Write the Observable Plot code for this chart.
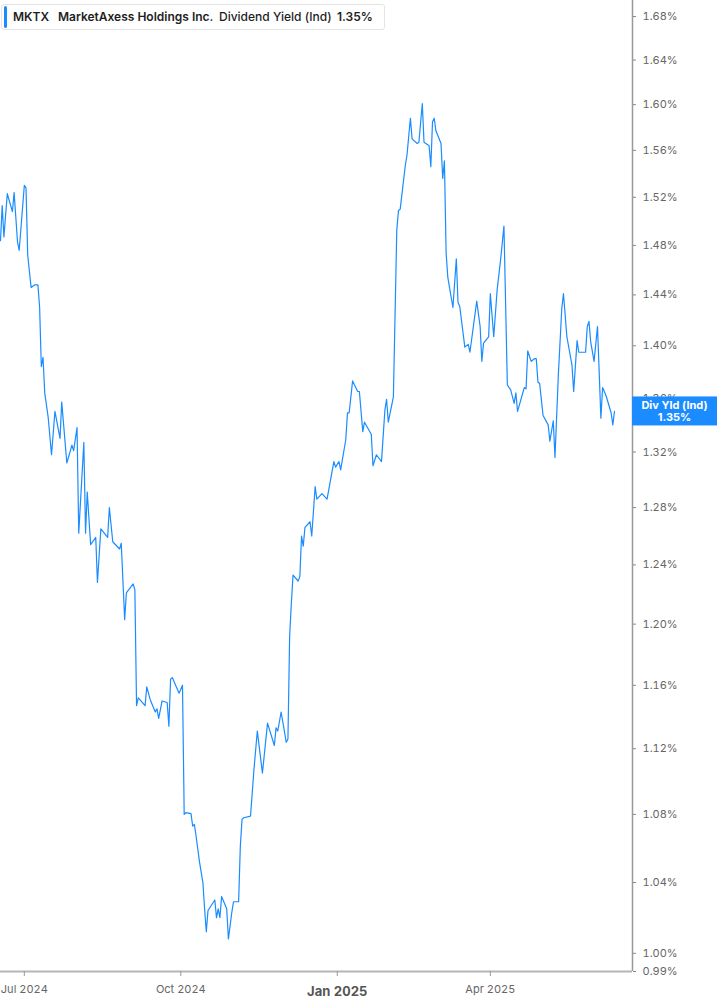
<!DOCTYPE html>
<html><head><meta charset="utf-8">
<script src="https://cdn.jsdelivr.net/npm/d3@7"></script>
<script src="https://cdn.jsdelivr.net/npm/@observablehq/plot@0.6"></script>
<style>
body{margin:0;background:#fff;font-family:Inter,"Noto Sans",sans-serif;}
#wrap{position:relative;width:717px;height:1005px;overflow:hidden}
#hdr{position:absolute;left:1px;top:4px;width:384px;height:26px;box-sizing:border-box;border:1px solid #e4e4e4;border-radius:3px;background:#fff;font-size:12px;font-weight:600;color:#1e1e1e}
#hdr .bar{position:absolute;left:2px;top:1px;width:3px;height:22px;background:#1a8cff;border-radius:2px}
#hdr span{position:absolute;top:4px;line-height:16px;white-space:nowrap}
</style></head>
<body><div id="wrap"><div id="chart"></div>
<div id="hdr"><div class="bar"></div><span style="left:11px">MKTX</span><span style="left:56px">MarketAxess Holdings Inc.</span><span style="left:217px;font-weight:500">Dividend Yield (Ind)</span><span style="left:335px">1.35%</span></div>
</div>
<script>
const dates = [
"2024-06-17","2024-06-18","2024-06-19","2024-06-21","2024-06-24","2024-06-25","2024-06-27","2024-06-28",
"2024-07-01","2024-07-02","2024-07-03","2024-07-05","2024-07-07","2024-07-09","2024-07-10","2024-07-11","2024-07-12","2024-07-13","2024-07-15","2024-07-17","2024-07-19","2024-07-22","2024-07-23","2024-07-26","2024-07-29","2024-07-30",
"2024-08-01","2024-08-02","2024-08-05","2024-08-06","2024-08-07","2024-08-09","2024-08-12","2024-08-13","2024-08-15","2024-08-19","2024-08-20","2024-08-22","2024-08-26","2024-08-27","2024-08-29","2024-08-30",
"2024-09-03","2024-09-04","2024-09-05","2024-09-06","2024-09-10","2024-09-11","2024-09-13","2024-09-16","2024-09-17","2024-09-18","2024-09-20","2024-09-23","2024-09-24","2024-09-25","2024-09-26","2024-09-30",
"2024-10-02","2024-10-03","2024-10-04","2024-10-07","2024-10-08","2024-10-09","2024-10-10","2024-10-12","2024-10-14","2024-10-15","2024-10-16","2024-10-17","2024-10-21","2024-10-22","2024-10-23","2024-10-24","2024-10-25","2024-10-28","2024-10-29","2024-10-31",
"2024-11-01","2024-11-04","2024-11-05","2024-11-06","2024-11-07","2024-11-11","2024-11-13","2024-11-15","2024-11-18","2024-11-21","2024-11-25","2024-11-26","2024-11-27","2024-11-29",
"2024-12-02","2024-12-03","2024-12-04","2024-12-05","2024-12-06","2024-12-09","2024-12-10","2024-12-11","2024-12-12","2024-12-13","2024-12-16","2024-12-17","2024-12-19","2024-12-20","2024-12-23","2024-12-26","2024-12-30","2024-12-31",
"2025-01-02","2025-01-03","2025-01-06","2025-01-07","2025-01-08","2025-01-10","2025-01-13","2025-01-14","2025-01-16","2025-01-17","2025-01-21","2025-01-22","2025-01-24","2025-01-27","2025-01-29","2025-01-30","2025-01-31",
"2025-02-03","2025-02-05","2025-02-06","2025-02-07","2025-02-10","2025-02-11","2025-02-13","2025-02-14","2025-02-17","2025-02-18","2025-02-20","2025-02-21","2025-02-24","2025-02-25","2025-02-26","2025-02-27","2025-02-28",
"2025-03-03","2025-03-04","2025-03-05","2025-03-06","2025-03-07","2025-03-10","2025-03-12","2025-03-13","2025-03-14","2025-03-17","2025-03-19","2025-03-20","2025-03-24","2025-03-26","2025-03-27","2025-03-28","2025-03-31",
"2025-04-01","2025-04-03","2025-04-05","2025-04-07","2025-04-09","2025-04-11","2025-04-13","2025-04-15","2025-04-16","2025-04-17","2025-04-21","2025-04-22","2025-04-23","2025-04-25","2025-04-27","2025-04-28","2025-04-29","2025-04-30",
"2025-05-02","2025-05-05","2025-05-06","2025-05-08","2025-05-09","2025-05-11","2025-05-13","2025-05-14","2025-05-16","2025-05-19","2025-05-20","2025-05-22","2025-05-23","2025-05-27","2025-05-28","2025-05-29","2025-05-30",
"2025-06-01","2025-06-03","2025-06-05","2025-06-06","2025-06-08","2025-06-11","2025-06-12","2025-06-13"
];
const yields = [
1.484,1.513,1.487,1.523,1.508,1.524,1.483,1.476,
1.530,1.528,1.472,1.446,1.448,1.448,1.430,1.384,1.391,1.364,1.346,1.318,1.350,1.330,1.357,1.312,1.325,1.321,
1.338,1.262,1.327,1.262,1.291,1.254,1.259,1.228,1.265,1.259,1.280,1.256,1.251,1.255,1.203,1.221,
1.227,1.223,1.147,1.152,1.147,1.159,1.151,1.143,1.145,1.139,1.150,1.149,1.134,1.164,1.165,1.155,
1.160,1.080,1.081,1.0805,1.073,1.074,1.067,1.052,1.040,1.025,1.012,1.024,1.030,1.020,1.025,1.020,1.032,1.025,1.008,1.023,
1.029,1.029,1.061,1.077,1.078,1.079,1.107,1.131,1.105,1.136,1.122,1.133,1.131,1.143,
1.124,1.126,1.192,1.214,1.233,1.229,1.232,1.260,1.253,1.266,1.270,1.260,1.295,1.286,1.290,1.286,1.313,1.309,
1.313,1.307,1.329,1.349,1.349,1.373,1.365,1.365,1.335,1.342,1.333,1.310,1.318,1.313,1.351,1.359,1.342,
1.361,1.493,1.509,1.510,1.547,1.556,1.588,1.570,1.566,1.567,1.601,1.567,1.564,1.546,1.585,1.588,1.577,
1.566,1.536,1.551,1.474,1.454,1.430,1.469,1.434,1.431,1.399,1.401,1.395,1.435,1.415,1.388,1.402,1.407,
1.441,1.407,1.444,1.468,1.496,1.370,1.366,1.356,1.364,1.350,1.368,1.367,1.396,1.388,1.390,1.390,1.372,1.371,
1.347,1.340,1.328,1.343,1.316,1.378,1.429,1.441,1.407,1.385,1.365,1.404,1.395,1.395,1.415,1.419,1.403,
1.388,1.415,1.345,1.368,1.362,1.349,1.340,1.350
];
const yTicks = [0.99,1.00,1.04,1.08,1.12,1.16,1.20,1.24,1.28,1.32,1.36,1.40,1.44,1.48,1.52,1.56,1.60,1.64,1.68];
const xTickDates = ["2024-07-01","2024-10-01","2025-04-01"];
const xTickLabels = ["Jul 2024","Oct 2024","Apr 2025"];
const xYearDate = "2025-01-01";
const xYearLabel = "Jan 2025";
const lastLabel = "Div Yld (Ind)";
const lastValue = yields[yields.length-1];

const data = dates.map((d,i)=>({date:new Date(d), value:yields[i]}));
const xDomain = [new Date("2024-06-17"), new Date("2025-06-23T14:00Z")];
const yDomain = [0.99, 1.695];
const blue = "#1a8cff";

function lastBox(index, scales, values, dimensions){
  const g = d3.create("svg:g");
  const y = scales.y(lastValue);
  const x0 = dimensions.width - dimensions.marginRight;
  const w = dimensions.marginRight;
  g.append("rect").attr("x", x0).attr("y", y-14.5).attr("width", w).attr("height", 29).attr("fill", blue);
  g.append("text").attr("x", x0 + w/2).attr("y", y-5).attr("text-anchor","middle").attr("dominant-baseline","middle")
    .attr("fill","#fff").attr("font-size",11).attr("font-weight",700).text(lastLabel);
  g.append("text").attr("x", x0 + w/2).attr("y", y+7).attr("text-anchor","middle").attr("dominant-baseline","middle")
    .attr("fill","#fff").attr("font-size",11).attr("font-weight",700).text(lastValue.toFixed(2)+"%");
  return g.node();
}

const chart = Plot.plot({
  width:717, height:1005,
  marginLeft:0, marginRight:85, marginTop:0, marginBottom:34,
  style:{fontFamily:"Inter, 'Noto Sans', sans-serif", fontSize:"11px", color:"#666", background:"#fff"},
  x:{type:"utc", domain:xDomain, label:null},
  y:{type:"log", domain:yDomain, label:null},
  marks:[
    Plot.line(data,{x:"date", y:"value", stroke:blue, strokeWidth:1.2}),
    Plot.ruleY([yDomain[0]],{stroke:"#b5b5b5", strokeWidth:2}),
    Plot.ruleX([xDomain[1]],{stroke:"#999", strokeWidth:1.5}),
    Plot.axisY({anchor:"right", ticks:yTicks, tickFormat:d=>d.toFixed(2)+"%", tickSize:3, tickPadding:7, fontSize:11, label:null, stroke:"#888"}),
    Plot.axisX({ticks:xTickDates.map(d=>new Date(d)), tickFormat:(d,i)=>xTickLabels[i], tickSize:5, tickPadding:9, fontSize:11, label:null, stroke:"#999"}),
    Plot.axisX({ticks:[new Date(xYearDate)], tickFormat:()=>xYearLabel, tickSize:5, tickPadding:10, fontSize:13, fontWeight:"bold", fill:"#555", label:null, stroke:"#999"}),
    lastBox
  ]
});
document.getElementById("chart").appendChild(chart);
</script>
</body></html>
